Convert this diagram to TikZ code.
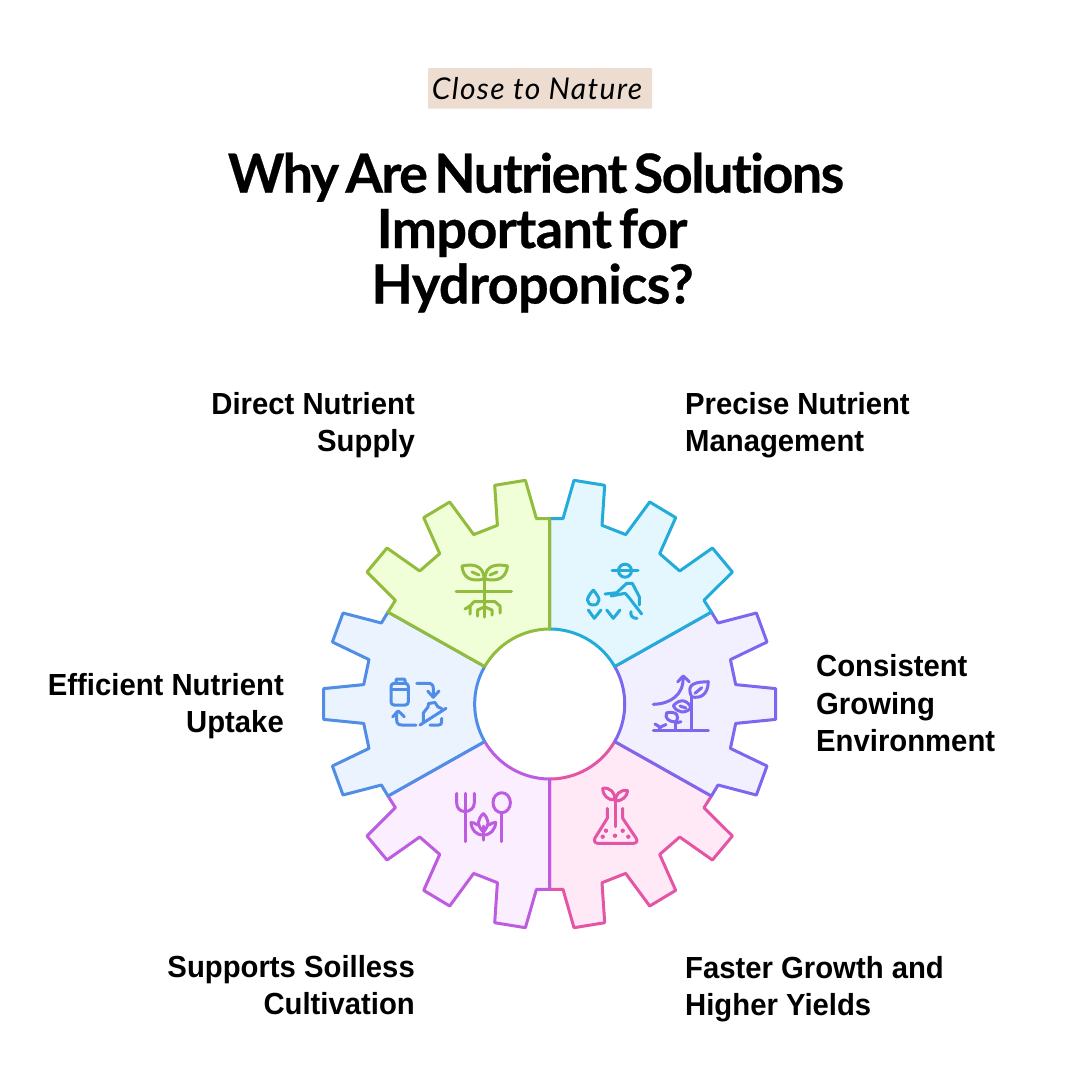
\documentclass[tikz,border=0pt]{standalone}
\usepackage{fontspec}
\usepackage{xcolor}
\setmainfont[FakeStretch=0.96]{Liberation Sans}
\newfontfamily\titlefont[LetterSpace=-3,WordSpace=0.55,Ligatures=NoCommon,BoldFeatures={FakeBold=0.5}]{Lato}
\newfontfamily\tagfont[LetterSpace=4.5,Ligatures=NoCommon]{Lato}

\definecolor{greenline}{HTML}{92BC3C}
\definecolor{greenfill}{HTML}{F1FFD9}
\definecolor{cyanline}{HTML}{23ABD9}
\definecolor{cyanfill}{HTML}{E4F7FF}
\definecolor{violetline}{HTML}{7F66EE}
\definecolor{violetfill}{HTML}{F2F0FF}
\definecolor{pinkline}{HTML}{E355A5}
\definecolor{pinkfill}{HTML}{FFE9F7}
\definecolor{purpleline}{HTML}{BD5CE0}
\definecolor{purplefill}{HTML}{FAEEFF}
\definecolor{blueline}{HTML}{4F8DE6}
\definecolor{bluefill}{HTML}{EBF3FF}
\definecolor{tagfill}{HTML}{EDDDD1}

\tikzset{
    sectorline/.style={line width=3pt, line join=round},
    iconline/.style={line width=3pt, line cap=round, line join=round},
    titleline/.style={anchor=base, inner sep=0pt, font=\titlefont\bfseries\fontsize{54}{56}\selectfont},
    leftlabel/.style={anchor=north east, align=right, inner sep=0pt, font=\bfseries\fontsize{30.5}{37.5}\selectfont},
    rightlabel/.style={anchor=north west, align=left, inner sep=0pt, font=\bfseries\fontsize{30.5}{37.5}\selectfont}
}

% rim of the upper left sector, relative to the gear centre
\newcommand{\greenrim}{(0,-185.4) -- (-13.3,-185.4) -- (-24.3,-223.7) -- (-55,-218.7) -- (-52.3,-178.7)
    -- (-76,-169.4) -- (-100,-202) -- (-126,-186.4) -- (-110,-150.4) -- (-130,-133)
    -- (-162.7,-156) -- (-182.7,-132) -- (-154.3,-103.7) -- (-161.7,-92) -- (-65,-37.5)
    .. controls (-51.55,-60.7) and (-26.8,-75) .. (0,-75) -- cycle}
% rim of the left sector
\newcommand{\bluerim}{(-161.7,-92) -- (-168.3,-81) -- (-206.7,-91) -- (-217.3,-62) -- (-180.7,-44.4)
    -- (-186,-19.4) -- (-226,-15.4) -- (-226,15.4) -- (-186,19.4) -- (-180.7,44.4)
    -- (-217.3,62) -- (-206.7,91) -- (-168.3,81) -- (-161.7,92) -- (-65,37.5)
    .. controls (-78.4,14.3) and (-78.4,-14.3) .. (-65,-37.5) -- cycle}

\begin{document}
\begin{tikzpicture}[x=1pt, y=-1pt]
    \useasboundingbox (0,0) rectangle (1080,1080);
    \fill[white] (0,0) rectangle (1080,1080);

    % Tag and title
    \node[fill=tagfill, rounded corners=1pt, minimum width=224pt, minimum height=40.5pt, inner sep=0pt,
        font=\tagfont\itshape\fontsize{30}{32}\selectfont] (tag) at (540,88.3) {\hspace*{-6pt}Close to Nature};
    \node[titleline] (title1) at (536,192.7) {Why Are Nutrient Solutions};
    \node[titleline] (title2) at (532,248) {\addfontfeature{LetterSpace=-1.2}Important for};
    \node[titleline] (title3) at (532.5,303.5) {\addfontfeature{LetterSpace=-1.2}Hydroponics?};

    % Labels
    \node[leftlabel] (direct) at (415,392) {Direct Nutrient\\Supply};
    \node[rightlabel] (precise) at (685,392) {Precise Nutrient\\Management};
    \node[rightlabel] (consistent) at (816,654.5) {Consistent\\Growing\\Environment};
    \node[leftlabel] (efficient) at (284,673) {Efficient Nutrient\\Uptake};
    \node[leftlabel] (soilless) at (415,955) {Supports Soilless\\Cultivation};
    \node[rightlabel] (faster) at (685,956) {Faster Growth and\\Higher Yields};

    % Sectors, later ones lie over earlier ones
    \begin{scope}[shift={(549.7,704)}]
        \draw[sectorline, draw=pinkline, fill=pinkfill, xscale=-1, yscale=-1] \greenrim;
        \draw[sectorline, draw=violetline, fill=violetfill, xscale=-1] \bluerim;
        \draw[sectorline, draw=cyanline, fill=cyanfill, xscale=-1] \greenrim;
        \draw[sectorline, draw=purpleline, fill=purplefill, yscale=-1] \greenrim;
        \draw[sectorline, draw=blueline, fill=bluefill] \bluerim;
        \draw[sectorline, draw=greenline, fill=greenfill] \greenrim;
    \end{scope}

    % Seedling with roots
    \begin{scope}[iconline, draw=greenline]
        \draw (456,591) -- (511.5,591);
        \draw (484.5,580) -- (484.5,617);
        \draw (462,566) .. controls (471,564) and (484,564) .. (484,579) .. controls (471,582) and (463,578) .. (462,566);
        \draw (507.5,566) .. controls (498,564) and (485,564) .. (485,579) .. controls (498,582) and (506,578) .. (507.5,566);
        \draw (472,572) -- (479,575);
        \draw (497,572) -- (490,575);
        \draw (484.5,601.7) -- (474,601.7) -- (470,606) -- (470,614);
        \draw (465,609) -- (470,606);
        \draw (484.5,601.7) -- (495,601.7) -- (500,606) -- (500,613);
        \draw (477.5,616) -- (477.5,610) -- (484,607);
        \draw (492,615) -- (492,610) -- (485,607);
    \end{scope}

    % Farmer and drops
    \begin{scope}[iconline, draw=cyanline]
        \draw (612,570) -- (638,570);
        \draw (625,570.7) circle (6.5);
        \draw (605,594) -- (616.7,592.7) -- (626.7,583.3) -- (632.3,583.3) -- (639.3,596.7) -- (639.3,605);
        \draw (611,596) -- (625,593.3) -- (628.3,596.7) -- (641.7,614);
        \draw (631,611.7) .. controls (630,616) and (633,618.5) .. (637,618.3);
        \draw (593.3,590) .. controls (589,595) and (587.5,598) .. (587.5,600) .. controls (587.5,603) and (590,605) .. (593.3,605)
            .. controls (596.5,605) and (599,603) .. (599,600) .. controls (599,598) and (597.5,595) .. (593.3,590);
        \draw (588.3,610) -- (594.3,618.3) -- (601,610);
        \draw (606.7,610) -- (613.3,618.3) -- (620,610);
    \end{scope}

    % Growing plants with arrow
    \begin{scope}[iconline, draw=violetline]
        \draw (653.3,730.7) -- (708.3,730.7);
        \draw (653.3,704.3) .. controls (670,704) and (684,695) .. (683,677);
        \draw (677.7,681.7) -- (683.3,676) -- (689.3,681.7);
        \draw (691.7,730.7) -- (691.7,696.7);
        \draw (691.7,696.7) .. controls (685,683) and (697,682) .. (708.3,681.7) .. controls (708,695) and (700,699) .. (691.7,696.7);
        \draw (695,693.3) -- (701.7,687.7);
        \draw (673.3,705.7) .. controls (680,698) and (688,700) .. (691,708) .. controls (685,714) and (677,713) .. (673.3,705.7);
        \draw (680,706) -- (686,708);
        \draw (666.7,712.7) .. controls (677,711) and (680,716) .. (675.7,722) .. controls (669,722) and (664,718) .. (666.7,712.7);
        \draw (675.7,730) -- (675.7,722);
        \draw (675.7,723) -- (681,721.7);
        \draw (655,724) .. controls (658,725) and (660,727) .. (660.5,730);
        \draw (666,724.5) -- (660.5,727);
    \end{scope}

    % Flask with seedling
    \begin{scope}[iconline, draw=pinkline]
        \draw (607.3,808.3) -- (607.3,818.3) -- (595,838) .. controls (593.5,841) and (595,843.3) .. (598,843.3) -- (633.5,843.3)
            .. controls (636.5,843.3) and (638,841) .. (636,838) -- (622.7,818.3) -- (622.7,808.3);
        \draw (615,800) -- (615,826.7);
        \draw (602.7,788.3) .. controls (610,787) and (616,793) .. (614.5,800) .. controls (608,800) and (603,796) .. (602.7,788.3);
        \draw (627.7,790.7) .. controls (620,789) and (615,795) .. (615.5,801) .. controls (622,801) and (627,797) .. (627.7,790.7);
        \fill[pinkline] (606,830.7) circle (2.2) (622.7,830.7) circle (2.2) (615,835.7) circle (2.2)
            (602.7,836.7) circle (2.2) (628.3,836.7) circle (2.2);
    \end{scope}

    % Fork, spoon and leaves
    \begin{scope}[iconline, draw=purpleline]
        \draw (456.7,793.3) -- (456.7,803) .. controls (456.7,808) and (460,811.5) .. (465,811.5)
            .. controls (470,811.5) and (474.3,808) .. (474.3,803) -- (474.3,793.3);
        \draw (465,793.3) -- (465,841.7);
        \draw (501.7,802.7) ellipse [x radius=8.7, y radius=10];
        \draw (501.7,812.7) -- (501.7,841.7);
        \draw (483.3,840) -- (483.3,826);
        \draw (483.3,813.5) .. controls (478,819) and (476,824) .. (483.3,832) .. controls (490.5,824) and (488.5,819) .. (483.3,813.5);
        \draw (477.5,825) .. controls (475,823) and (473,822.5) .. (471,822.5) .. controls (471.5,830) and (476,835) .. (483.3,835)
            .. controls (490.5,835) and (495,830) .. (495.7,822.5) .. controls (493.5,822.5) and (491.5,823) .. (489,825);
    \end{scope}

    % Bottles in a cycle
    \begin{scope}[iconline, draw=blueline]
        \draw[rounded corners=3pt] (391,683.3) rectangle (408.3,705);
        \draw[rounded corners=1pt] (396,683.3) -- (396,679) -- (405,679) -- (405,683.3);
        \draw (391,689.3) -- (408.3,689.3);
        \draw (416.7,683.3) -- (428.3,683.3) .. controls (431.5,683.3) and (433.3,685) .. (433.3,688.3) -- (433.3,696.7);
        \draw (427.7,691) -- (433.3,697.3) -- (439,691);
        \draw (416,725) -- (402,725) .. controls (398.5,725) and (396.7,723.5) .. (396.7,720) -- (396.7,712);
        \draw (392.7,716.7) -- (398.3,711) -- (404.3,716.7);
        \draw (423.3,721.7) -- (423.3,713) -- (428,707) -- (428.5,703.5) -- (435,702.5) -- (438,707) -- (441.7,708.5);
        \draw (420,725) -- (446,708.3);
        \draw (441.7,718.3) -- (441.7,722) .. controls (441.7,724) and (440.5,725) .. (438.5,725) -- (430,725);
    \end{scope}
\end{tikzpicture}
\end{document}
